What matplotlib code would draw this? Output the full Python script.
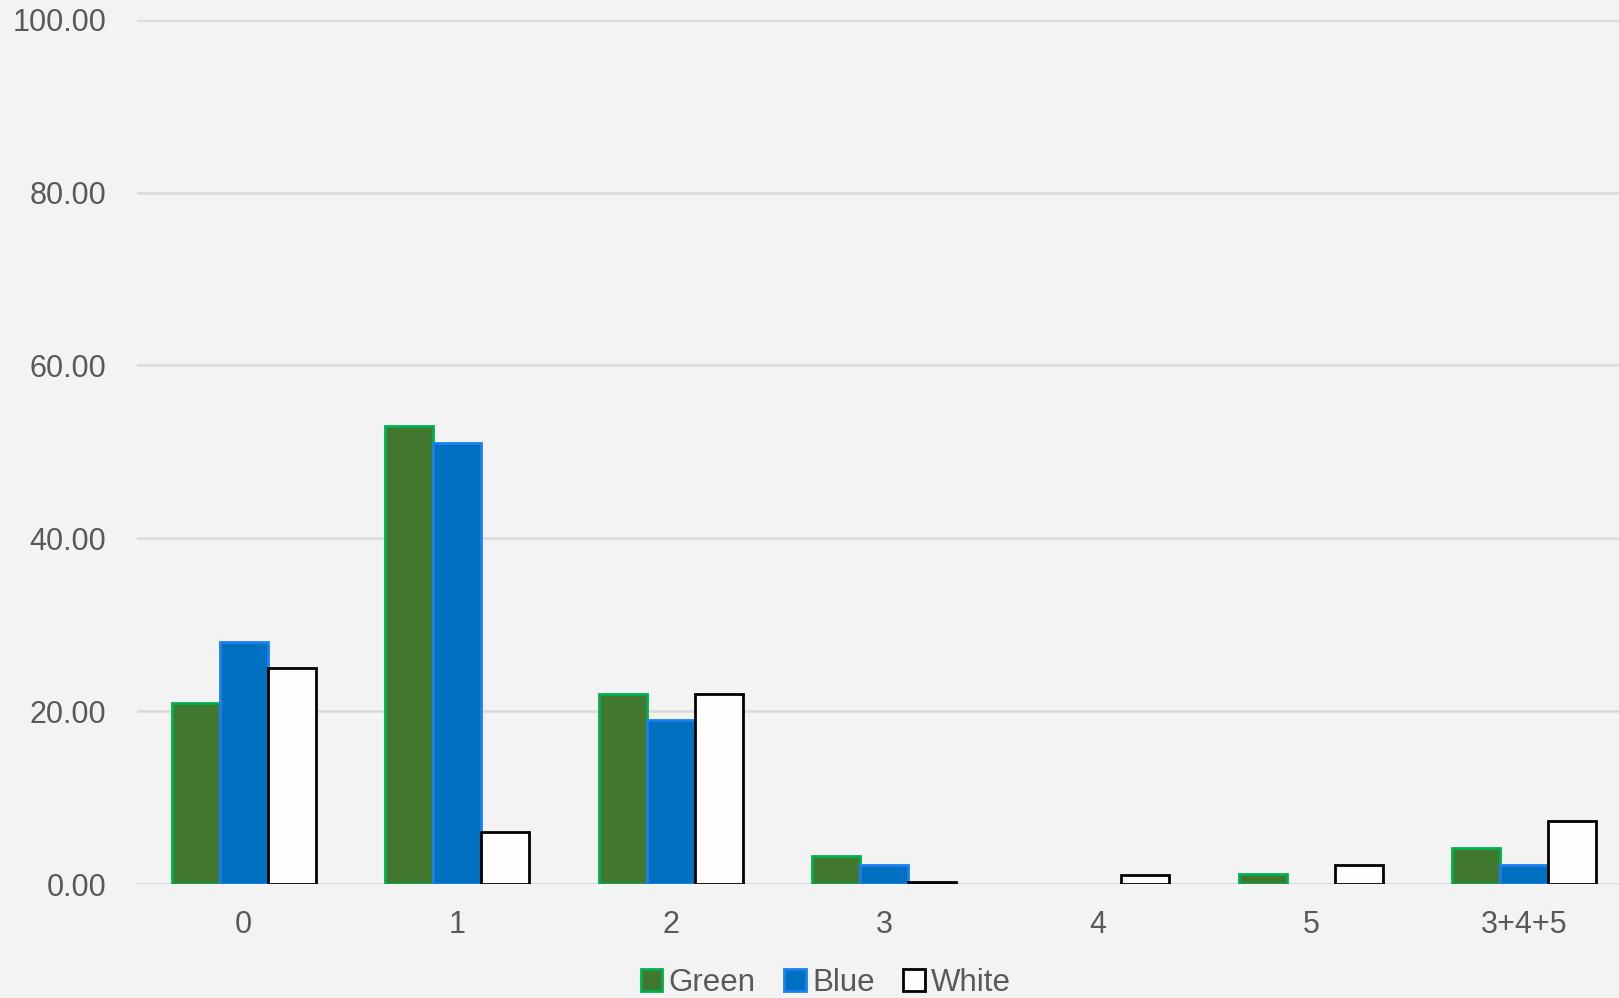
import matplotlib
matplotlib.use("Agg")
import matplotlib.pyplot as plt
import numpy as np

categories = ["0", "1", "2", "3", "4", "5", "3+4+5"]
green = [21.0, 53.0, 22.0, 3.2, 0.0, 1.2, 4.2]
blue = [28.0, 51.0, 19.0, 2.2, 0.0, 0.0, 2.2]
white = [25.0, 6.0, 22.0, 0.25, 1.1, 2.2, 7.3]

plt.rcParams['font.family'] = ['Liberation Sans', 'DejaVu Sans']

fig = plt.figure(figsize=(16.19, 9.98), dpi=100)
fig.patch.set_facecolor('#f3f3f3')
ax = fig.add_axes([0.0846, 0.1142, 0.9228, 0.866])
ax.set_facecolor('#f3f3f3')

x = np.arange(len(categories))
w = 0.225
series = [
    ("Green", green, '#41772f', '#00b050'),
    ("Blue", blue, '#0070c0', '#1a7ff0'),
    ("White", white, '#fffefc', '#000000'),
]
for i, (name, vals, fc, ec) in enumerate(series):
    bars = ax.bar(x + (i - 1) * w, vals, width=w, color=fc, edgecolor=ec,
                  linewidth=2, label=name, zorder=3)
    for b, v in zip(bars, vals):
        if v == 0:
            b.set_visible(False)

ax.set_xlim(-0.5, len(categories) - 0.5)
ax.set_ylim(0, 100)
ax.set_yticks(np.arange(0, 101, 20))
ax.yaxis.set_major_formatter(matplotlib.ticker.FormatStrFormatter('%.2f'))
ax.set_xticks(x)
ax.set_xticklabels(categories)
ax.grid(axis='y', color='#d9d9d9', linewidth=1.8, zorder=0)
ax.set_axisbelow(True)
for s in ax.spines.values():
    s.set_visible(False)
ax.axhline(0, color='#d9d9d9', linewidth=2.2, zorder=2)
ax.tick_params(axis='both', length=0, labelsize=22, colors='#595959')
ax.tick_params(axis='y', pad=22)
ax.tick_params(axis='x', pad=19)

leg = fig.legend(loc='lower center', bbox_to_anchor=(0.51, -0.028), ncol=3,
                 frameon=False, fontsize=22.5, handlelength=0.7, handleheight=0.7,
                 handletextpad=0.2, columnspacing=0.9, labelcolor='#595959')

fig.savefig('out.png', dpi=100, facecolor=fig.get_facecolor())
